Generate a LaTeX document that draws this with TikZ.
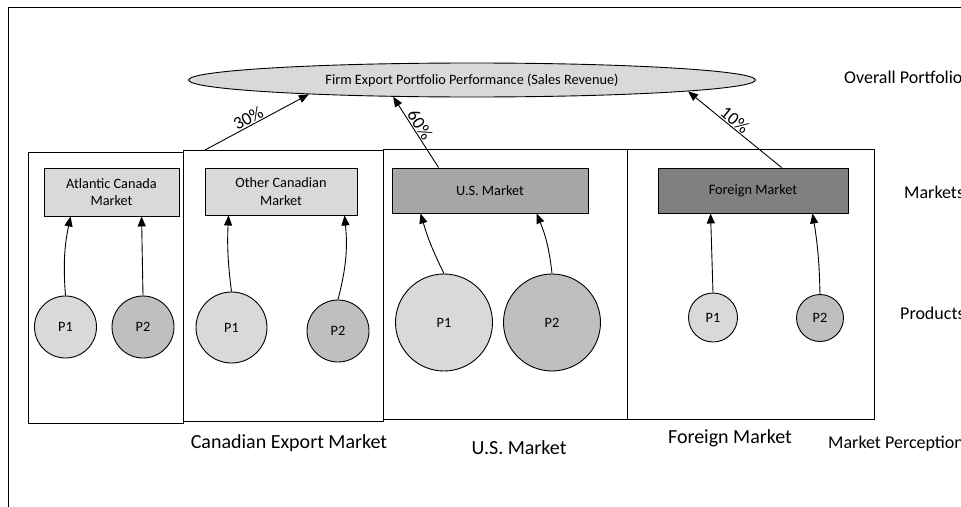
\documentclass[tikz,border=0pt]{standalone}
\usepackage{fontspec}
\setmainfont{Carlito}
\usetikzlibrary{arrows.meta,shapes.geometric,calc}
\definecolor{gA}{HTML}{D9D9D9}
\definecolor{gB}{HTML}{BFBFBF}
\definecolor{gC}{HTML}{A6A6A6}
\definecolor{gD}{HTML}{808080}
\begin{document}
\begin{tikzpicture}[x=1pt,y=-1pt,
  lw/.style={line width=0.9pt},
  bigbox/.style={draw,lw,rectangle,inner sep=0pt,anchor=north west},
  mkt/.style={draw,lw,rectangle,inner sep=0pt,align=center,font=\fontsize{14.3}{17.5}\selectfont},
  prod/.style={draw,lw,circle,inner sep=0pt,font=\fontsize{14.3}{17.5}\selectfont},
  arr/.style={lw,-{Triangle[width=8pt,length=10pt]}},
  pct/.style={font=\fontsize{18}{21}\selectfont,sloped,above,inner sep=1pt},
  lbl/.style={font=\fontsize{20}{24}\selectfont,anchor=base,inner sep=0pt},
  side/.style={font=\fontsize{18}{22}\selectfont,anchor=base west,inner sep=0pt}]
\useasboundingbox (0,0) rectangle (961,506);
\clip (0,0) rectangle (961,506);
% outer frame
\draw[lw] (8,7) rectangle (1000,540);
% containers
\node[bigbox,minimum width=155pt,minimum height=271pt] (acbox) at (28,152) {};
\node[bigbox,minimum width=200pt,minimum height=271pt] (ocbox) at (183,150) {};
\node[bigbox,minimum width=244pt,minimum height=270pt] (usbox) at (383,149) {};
\node[bigbox,minimum width=247pt,minimum height=270pt] (fbox) at (627,149) {};
% overall
\node[draw,lw,ellipse,fill=gA,inner sep=0pt,minimum width=567pt,minimum height=34pt,
  font=\fontsize{14.3}{17.5}\selectfont] (ell) at (472,80)
  {Firm Export Portfolio Performance (Sales Revenue)};
% markets
\node[mkt,fill=gA,minimum width=135pt,minimum height=48pt] (acm) at (111.5,192) {Atlantic Canada\\Market};
\node[mkt,fill=gA,minimum width=152pt,minimum height=47pt] (ocm) at (281,191.5) {Other Canadian\\Market};
\node[mkt,fill=gC,minimum width=196pt,minimum height=45pt] (usm) at (490,190.5) {U.S. Market};
\node[mkt,fill=gD,minimum width=190pt,minimum height=45pt] (fm) at (753,190.5) {Foreign Market};
% products
\node[prod,fill=gA,minimum size=62pt] (ap1) at (65.5,327) {P1};
\node[prod,fill=gB,minimum size=62pt] (ap2) at (143,327) {P2};
\node[prod,fill=gA,minimum size=71pt] (op1) at (231.5,327.5) {P1};
\node[prod,fill=gB,minimum size=62pt] (op2) at (338,331) {P2};
\node[prod,fill=gA,minimum size=97pt] (up1) at (444,322.5) {P1};
\node[prod,fill=gB,minimum size=97pt] (up2) at (552,322.5) {P2};
\node[prod,fill=gA,minimum size=49pt] (fp1) at (713,317.5) {P1};
\node[prod,fill=gB,minimum size=47pt] (fp2) at (820,318) {P2};
% product arrows
\draw[arr] (ap1.north) to[bend left=8] ($(acm.south west)+(27,0)$);
\draw[arr] (ap2.north) -- ($(acm.south west)+(98,0)$);
\draw[arr] (op1.north) to[bend left=5] ($(ocm.south west)+(24,0)$);
\draw[arr] (op2.north) to[bend right=10] ($(ocm.south west)+(140,0)$);
\draw[arr] (up1.north) to[bend left=5] ($(usm.south west)+(29,0)$);
\draw[arr] (up2.north) to[bend right=8] ($(usm.south west)+(145,0)$);
\draw[arr] (fp1.north) -- ($(fm.south west)+(53,0)$);
\draw[arr] (fp2.north) to[bend right=4] ($(fm.south west)+(155,0)$);
% market arrows
\draw[arr] ($(ocbox.north west)+(22,0)$) -- (ell.185) node[pct,pos=0.45] {30\%};
\draw[arr] ($(usm.north west)+(47,0)$) -- (ell.192.5) node[pct,pos=0.55] {60\%};
\draw[arr] ($(fm.north west)+(124,0)$) -- (ell.357.6) node[pct,pos=0.55] {10\%};
% labels
\node[lbl] (lcan) at (289,448) {Canadian Export Market};
\node[lbl] (lus) at (519,454) {U.S. Market};
\node[lbl] (lfor) at (730,443) {Foreign Market};
\node[side] (lperc) at (828,448) {Market Perception};
\node[side] (lover) at (844,83) {Overall Portfolio};
\node[side] (lmkts) at (904,198) {Markets};
\node[side] (lprod) at (900,319) {Products};
\end{tikzpicture}
\end{document}
